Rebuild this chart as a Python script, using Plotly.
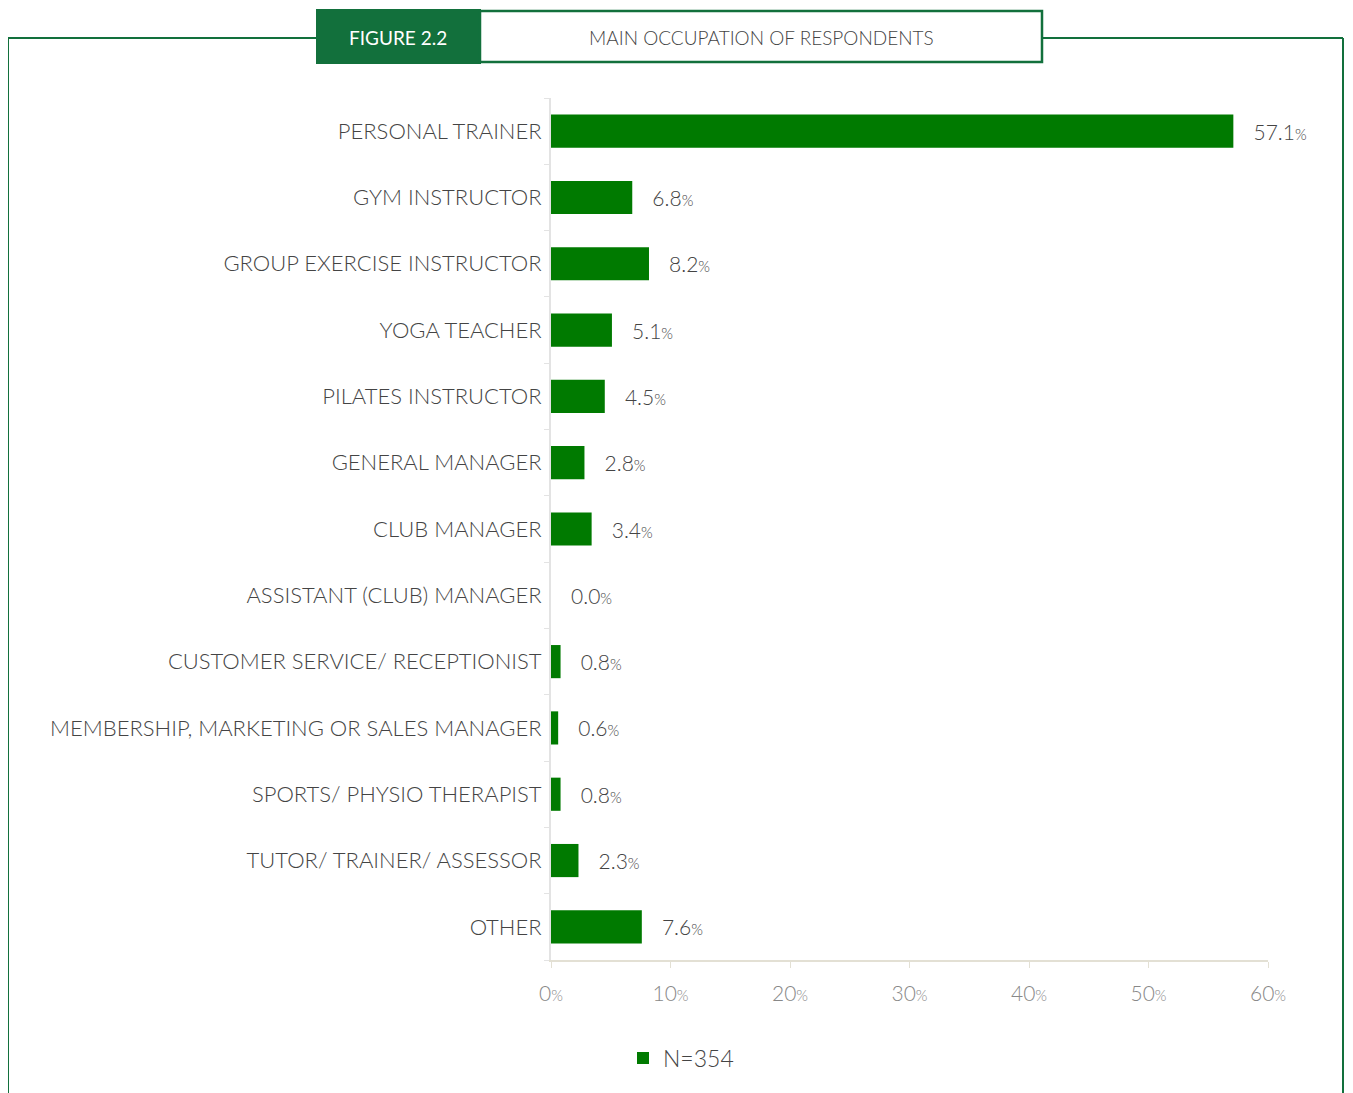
import plotly.graph_objects as go

categories = ["PERSONAL TRAINER", "GYM INSTRUCTOR", "GROUP EXERCISE INSTRUCTOR",
              "YOGA TEACHER", "PILATES INSTRUCTOR", "GENERAL MANAGER", "CLUB MANAGER",
              "ASSISTANT (CLUB) MANAGER", "CUSTOMER SERVICE/ RECEPTIONIST",
              "MEMBERSHIP, MARKETING OR SALES MANAGER", "SPORTS/ PHYSIO THERAPIST",
              "TUTOR/ TRAINER/ ASSESSOR", "OTHER"]
values = [57.1, 6.8, 8.2, 5.1, 4.5, 2.8, 3.4, 0.0, 0.8, 0.6, 0.8, 2.3, 7.6]
series_name = "N=354"
tick_vals = [0, 10, 20, 30, 40, 50, 60]
tick_text = ["0<span style='font-size:15px'>%</span>", "10<span style='font-size:15px'>%</span>",
             "20<span style='font-size:15px'>%</span>", "30<span style='font-size:15px'>%</span>",
             "40<span style='font-size:15px'>%</span>", "50<span style='font-size:15px'>%</span>",
             "60<span style='font-size:15px'>%</span>"]
fig_label = "FIGURE 2.2"
fig_title = "MAIN OCCUPATION OF RESPONDENTS"

FONT = "Lato, 'Open Sans', sans-serif"
GREEN = "#007a00"
DARK = "#12703c"
OFF = 8  # page body margin

W, H = 1337, 1093 - OFF
L, T = 551 - OFF, 98 - OFF
R = W - (1268 - OFF)
B = H - (960 - OFF)
pw, ph = W - L - R, H - T - B


def px(x):  # page x -> paper
    return (x - OFF - L) / pw


def py(y):  # page y -> paper
    return (H - B - (y - OFF)) / ph


fig = go.Figure()
fig.add_trace(go.Bar(
    y=categories, x=values, orientation="h", name=series_name,
    marker=dict(color=GREEN, line=dict(width=0)),
    text=["\u00a0\u00a0\u00a0" + f"{v:.1f}" + "<span style='font-size:15px'>%</span>" for v in values],
    textposition="outside",
    textfont=dict(size=21, color="#444", family=FONT, weight=300),
    cliponaxis=False, showlegend=True,
))

fig.update_layout(
    width=W, height=H,
    margin=dict(l=L, r=R, t=T, b=B, autoexpand=False),
    paper_bgcolor="white", plot_bgcolor="white",
    bargap=0.5,
    font=dict(family=FONT, color="#444", weight=300),
    showlegend=True,
    legend=dict(orientation="h", x=px(623), xanchor="left",
                y=py(1058), yanchor="middle",
                font=dict(size=23, color="#444", family=FONT, weight=300),
                itemwidth=30, bgcolor="rgba(0,0,0,0)"),
    xaxis=dict(range=[0, 60], tickvals=tick_vals, ticktext=tick_text,
               showgrid=False, zeroline=False, showline=True,
               linecolor="#e3e0d4", linewidth=2, ticks="outside",
               tickcolor="#e3e0d4", ticklen=6, ticklabelstandoff=8,
               tickfont=dict(size=21, color="#888", family=FONT, weight=300)),
    yaxis=dict(categoryorder="array", categoryarray=categories[::-1],
               autorange=False, range=[-0.5, len(categories) - 0.5],
               showgrid=False, zeroline=False, showline=True,
               linecolor="#e3e3e3", linewidth=2,
               ticks="outside", tickson="boundaries", ticklen=5, tickcolor="#e3e3e3",
               ticklabelstandoff=3,
               tickfont=dict(size=22, color="#444", family=FONT, weight=300)),
)

shape_kw = dict(xref="paper", yref="paper", line=dict(color=DARK, width=2))
fig.add_shape(type="line", x0=px(8), x1=px(317), y0=py(38), y1=py(38), **shape_kw)
fig.add_shape(type="line", x0=px(8), x1=px(8), y0=py(38), y1=py(1100), **shape_kw)
fig.add_shape(type="line", x0=px(1042), x1=px(1343), y0=py(38), y1=py(38), **shape_kw)
fig.add_shape(type="line", x0=px(1343), x1=px(1343), y0=py(38), y1=py(1100), **shape_kw)
fig.add_shape(type="rect", x0=px(317), x1=px(480), y0=py(63), y1=py(10),
              xref="paper", yref="paper", fillcolor=DARK, line=dict(color=DARK, width=2))
fig.add_shape(type="rect", x0=px(480), x1=px(1042), y0=py(62), y1=py(11),
              xref="paper", yref="paper", fillcolor="white", line=dict(color=DARK, width=2.5))
fig.add_annotation(x=px(398), y=py(37), xref="paper", yref="paper", text=fig_label,
                   xanchor="center", yanchor="middle", showarrow=False,
                   font=dict(size=19, color="white", family=FONT, weight=400))
fig.add_annotation(x=px(761), y=py(37), xref="paper", yref="paper", text=fig_title,
                   xanchor="center", yanchor="middle", showarrow=False,
                   font=dict(size=19, color="#444", family=FONT, weight=300))

fig.write_html("out.html")
